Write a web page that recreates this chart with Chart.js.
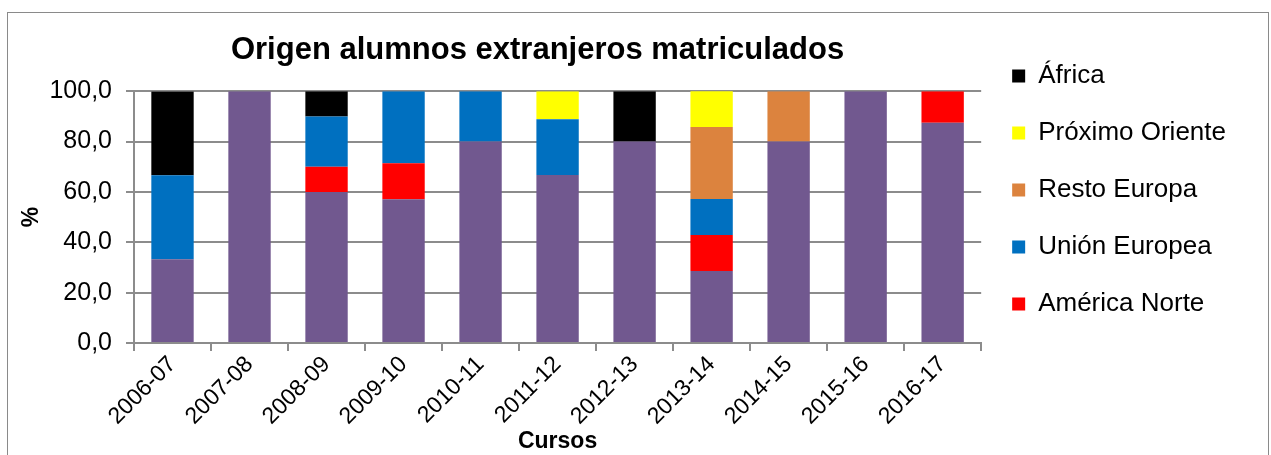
<!DOCTYPE html>
<html>
<head>
<meta charset="utf-8">
<script src="https://cdn.jsdelivr.net/npm/chart.js@4"></script>
<style>
  html, body { margin: 0; padding: 0; background: #fff; overflow: hidden; }
  #marco { position: absolute; left: 7px; top: 12px; width: 1260px; height: 470px; border: 1px solid #8a8a8a; }
  #lienzo { position: absolute; left: 0; top: 0; }
</style>
</head>
<body>
<div id="marco"></div>
<canvas id="lienzo" width="1271" height="455"></canvas>
<script>
// --- datos del grafico ---
const cursos = ['2006-07', '2007-08', '2008-09', '2009-10', '2010-11', '2011-12', '2012-13', '2013-14', '2014-15', '2015-16', '2016-17'];
const americaSur = [33.3, 100, 60, 57.1, 80, 66.7, 80, 28.6, 80, 100, 87.5];
const americaNorte = [0, 0, 10, 14.3, 0, 0, 0, 14.3, 0, 0, 12.5];
const unionEuropea = [33.3, 0, 20, 28.6, 20, 22.2, 0, 14.3, 0, 0, 0];
const restoEuropa = [0, 0, 0, 0, 0, 0, 0, 28.6, 20, 0, 0];
const proximoOriente = [0, 0, 0, 0, 0, 11.1, 0, 14.3, 0, 0, 0];
const africa = [33.3, 0, 10, 0, 0, 0, 20, 0, 0, 0, 0];
const ticksY = [0, 20, 40, 60, 80, 100];

const fuente = "'Liberation Sans', Arial, sans-serif";
const gris = '#8c8c8c';

function serie(nombre, datos, color) {
    return {
        label: nombre,
        data: datos,
        backgroundColor: color,
        borderWidth: 0,
        categoryPercentage: 1,
        barPercentage: 0.55
    };
}

// el titulo del original queda algo corrido a la izquierda del area de barras
const correrTitulo = {
    id: 'correrTitulo',
    afterLayout(chart) {
        chart.titleBlock.left -= 40;
    }
};

new Chart(document.getElementById('lienzo').getContext('2d'), {
    type: 'bar',
    data: {
        labels: cursos,
        datasets: [
            serie('América Sur', americaSur, '#71588f'),
            serie('América Norte', americaNorte, '#ff0000'),
            serie('Unión Europea', unionEuropea, '#0070c0'),
            serie('Resto Europa', restoEuropa, '#dc833e'),
            serie('Próximo Oriente', proximoOriente, '#ffff00'),
            serie('África', africa, '#000000')
        ]
    },
    plugins: [correrTitulo],
    options: {
        responsive: false,
        animation: false,
        layout: { padding: { left: 12, right: 35, top: 32, bottom: 0 } },
        plugins: {
            title: {
                display: true,
                text: 'Origen alumnos extranjeros matriculados',
                color: '#000',
                fullSize: false,
                font: { family: fuente, size: 31, weight: 'bold' },
                padding: { top: 0, bottom: 22 }
            },
            legend: {
                position: 'right',
                align: 'start',
                reverse: true,
                labels: {
                    color: '#000',
                    boxWidth: 13,
                    boxHeight: 13,
                    padding: 31,
                    font: { family: fuente, size: 26 },
                    filter: item => item.text !== 'América Sur'
                }
            },
            tooltip: { enabled: false }
        },
        scales: {
            x: {
                stacked: true,
                offset: true,
                afterFit: escala => { escala.height = 112; },
                grid: { offset: true, drawOnChartArea: false, color: gris, lineWidth: 2, tickLength: 8 },
                border: { color: gris, width: 2 },
                ticks: { color: '#000', maxRotation: 45, minRotation: 45, font: { family: fuente, size: 23 }, padding: 0 },
                title: { display: true, text: 'Cursos', color: '#000', font: { family: fuente, size: 23, weight: 'bold' }, padding: 0 }
            },
            y: {
                stacked: true,
                min: 0,
                max: 100,
                afterFit: escala => { escala.width = 122; },
                afterBuildTicks: escala => { escala.ticks = ticksY.map(v => ({ value: v })); },
                grid: { color: gris, lineWidth: 2, tickLength: 8 },
                border: { color: gris, width: 2 },
                ticks: {
                    color: '#000',
                    font: { family: fuente, size: 25 },
                    padding: 14,
                    callback: v => v.toFixed(1).replace('.', ',')
                },
                title: { display: true, text: '%', color: '#000', font: { family: fuente, size: 23, weight: 'bold' }, padding: { top: 6, bottom: 0 } }
            }
        }
    }
});
</script>
</body>
</html>
